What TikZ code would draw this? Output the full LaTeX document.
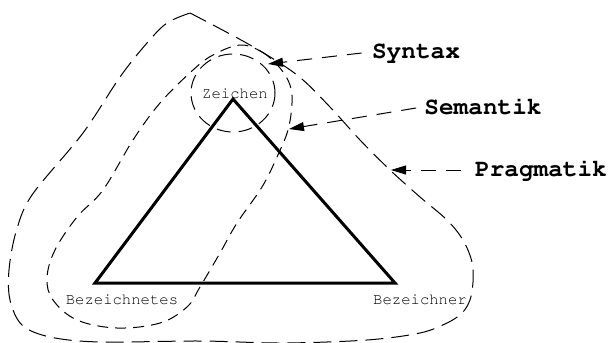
\documentclass[tikz,border=0pt]{standalone}
\usepackage[T1]{fontenc}
\renewcommand\ttdefault{pcr}
\usetikzlibrary{arrows.meta,positioning}

\begin{document}
\begin{tikzpicture}[
    x=0.5pt, y=-0.5pt,
    corner/.style={font=\ttfamily\fontsize{7.8}{9}\selectfont, text=black, inner sep=1pt},
    levellabel/.style={font=\ttfamily\bfseries\fontsize{12.2}{14}\selectfont, inner sep=1pt},
    tri/.style={line width=1.5pt, line join=miter},
    syntaxline/.style={dash pattern=on 7pt off 4pt, line width=0.5pt},
    semline/.style={dash pattern=on 5.5pt off 3.5pt, line width=0.5pt},
    pragline/.style={dash pattern=on 9pt off 4pt, line width=0.5pt},
    pointer/.style={-{Triangle[length=7.5pt, width=4.5pt]}, dash pattern=on 7.5pt off 5pt, line width=0.5pt},
]
    \useasboundingbox (0,0) rectangle (611,343);

    % Triangle corners
    \coordinate (zeichen) at (233,99);
    \coordinate (bezeichnetes) at (95,283);
    \coordinate (bezeichner) at (395,283);
    \draw[tri] (zeichen) -- (bezeichner) -- (bezeichnetes) -- cycle;

    \node[corner] (zlabel) at (235,94) {Zeichen};
    \node[corner] (bnlabel) at (122,300) {Bezeichnetes};
    \node[corner] (brlabel) at (420,300) {Bezeichner};

    % Syntax: around Zeichen
    \draw[syntaxline] (233,93) ellipse [x radius=42, y radius=39];

    % Semantik: Zeichen and Bezeichnetes
    \draw[semline] plot[smooth cycle, tension=0.6] coordinates {
        (240,45) (262,52) (280,68) (290,85) (292,103) (288,130) (277,157)
        (262,187) (237,223) (220,253) (200,287) (187,307) (160,323)
        (117,328) (77,320) (53,300) (47,278) (55,250) (77,217) (103,190)
        (133,140) (160,103) (193,70) (213,55)};

    % Pragmatik: all three (pointed at the top)
    \draw[pragline] plot[smooth, tension=0.55] coordinates {
        (190,13) (250,45) (297,75) (330,107) (360,140) (390,170) (420,197)
        (447,220) (463,240) (472,262) (473,282) (470,300) (462,313)
        (447,323) (420,333) (367,340) (283,343) (200,341) (100,342)
        (50,337) (22,325) (10,300) (9,270) (16,232) (32,195) (83,133)
        (120,77) (147,43) (167,23) (190,13)};

    % Labels with pointers
    \node[levellabel] (syntax) at (416,53) {Syntax};
    \node[levellabel] (semantik) at (483,107) {Semantik};
    \node[levellabel] (pragmatik) at (541,170) {Pragmatik};

    \coordinate (syntaxtip) at (268,64);
    \coordinate (semtip) at (289,129);
    \coordinate (pragtip) at (391,170);

    \draw[pointer] (syntax.west) ++(-8,0) -- (syntaxtip);
    \draw[pointer] (semantik.west) ++(-6,1) -- (semtip);
    \draw[pointer] (pragmatik.west) ++(-12,0) -- (pragtip);
\end{tikzpicture}
\end{document}
